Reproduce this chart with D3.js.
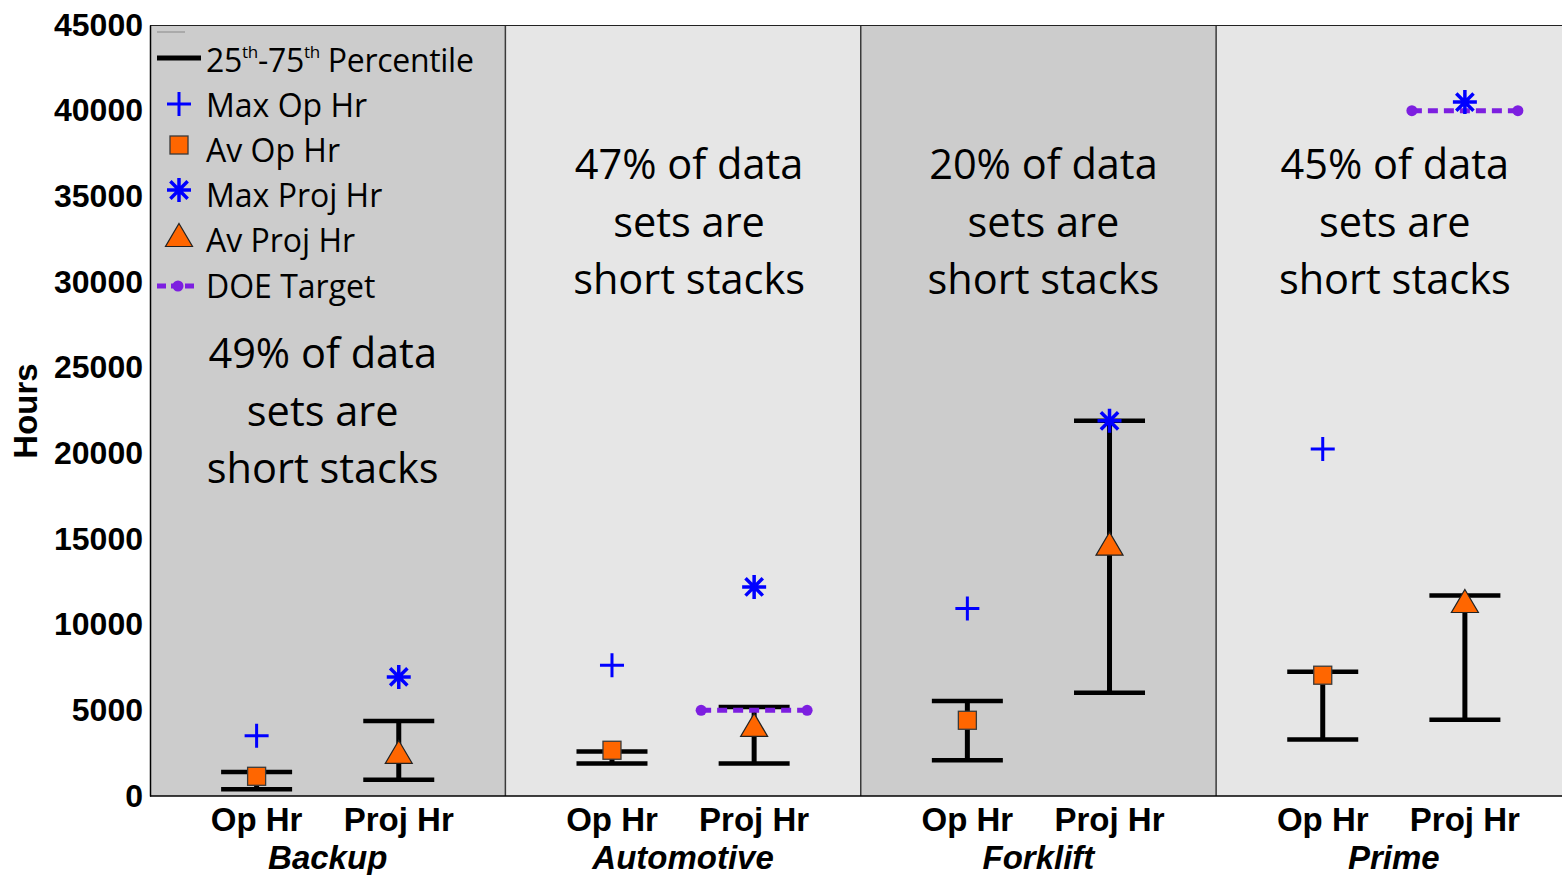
<!DOCTYPE html>
<html><head><meta charset="utf-8">
<script src="https://cdn.jsdelivr.net/npm/d3@7"></script>
<style>html,body{margin:0;padding:0;background:#fff;}svg{display:block;}</style>
</head><body>
<svg id="chart" width="1562" height="875"></svg>
<script>
// ---- data ----
const groups = ["Backup", "Automotive", "Forklift", "Prime"];
const subLabels = ["Op Hr", "Proj Hr"];
const shortStackPct = ["49%", "47%", "20%", "45%"];
const yTicks = [0, 5000, 10000, 15000, 20000, 25000, 30000, 35000, 40000, 45000];

const opP25   = [400, 1890, 2080, 3300];
const opP75   = [1400, 2590, 5550, 7250];
const opAv    = [1150, 2670, 4420, 7050];
const opMax   = [3520, 7630, 10950, 20250];

const projP25 = [950, 1890, 6030, 4450];
const projP75 = [4380, 5200, 21900, 11700];
const projAv  = [2570, 4150, 14730, 11380];
const projMax = [6950, 12200, 21900, 40500];

const doeTarget = [null, 5000, null, 40000];

// ---- layout ----
const W = 1562, H = 875;
const plot = {left: 150, top: 25, bottom: 796};
const panelFill = ["#cccccc", "#e6e6e6", "#cccccc", "#e6e6e6"];
const svg = d3.select("#chart");

const x = d3.scaleLinear().domain([0, 4]).range([plot.left, 1571.5]);
const y = d3.scaleLinear().domain([0, 45000]).range([plot.bottom, plot.top]);
const opPos = 0.3, projPos = 0.7;

// panels
svg.selectAll("rect.panel").data(groups).join("rect")
  .attr("class", "panel")
  .attr("x", (d, i) => x(i)).attr("y", plot.top)
  .attr("width", (d, i) => x(i + 1) - x(i)).attr("height", plot.bottom - plot.top)
  .attr("fill", (d, i) => panelFill[i]);

// dividers
svg.selectAll("line.div").data([1, 2, 3]).join("line")
  .attr("x1", d => x(d)).attr("x2", d => x(d))
  .attr("y1", plot.top).attr("y2", plot.bottom)
  .attr("stroke", "#3a3a3a").attr("stroke-width", 1.5);

// top border
svg.append("line").attr("x1", plot.left).attr("x2", W).attr("y1", plot.top + 0.5).attr("y2", plot.top + 0.5)
  .attr("stroke", "#222").attr("stroke-width", 1.2);

// y axis
const yAxis = d3.axisLeft(y).tickValues(yTicks).tickSize(0).tickPadding(7).tickFormat(d3.format("d"));
const gy = svg.append("g").attr("transform", `translate(${plot.left},0)`).call(yAxis);
gy.select(".domain").attr("stroke", "#000").attr("stroke-width", 1.5);
gy.selectAll("text").attr("font-family", "Liberation Sans, Arial, sans-serif")
  .attr("font-weight", "bold").attr("font-size", 32).attr("fill", "#000");

// bottom axis line
svg.append("line").attr("x1", plot.left).attr("x2", W).attr("y1", plot.bottom).attr("y2", plot.bottom)
  .attr("stroke", "#000").attr("stroke-width", 1.5);

// y title
svg.append("text").attr("transform", `translate(37,411) rotate(-90)`)
  .attr("text-anchor", "middle").attr("font-family", "Liberation Sans, Arial, sans-serif")
  .attr("font-weight", "bold").attr("font-size", 33).text("Hours");

// x labels
groups.forEach((g, i) => {
  [opPos, projPos].forEach((p, j) => {
    svg.append("text").attr("x", x(i + p)).attr("y", 831).attr("text-anchor", "middle")
      .attr("font-family", "Liberation Sans, Arial, sans-serif").attr("font-weight", "bold")
      .attr("font-size", 33).text(subLabels[j]);
  });
  svg.append("text").attr("x", x(i + 0.5)).attr("y", 869).attr("text-anchor", "middle")
    .attr("font-family", "Liberation Sans, Arial, sans-serif").attr("font-weight", "bold")
    .attr("font-style", "italic").attr("font-size", 33).text(g);
});

// annotations
const annoPos = [{dx: -5, y: 352}, {dx: 6, y: 163}, {dx: 5, y: 163}, {dx: 1, y: 163}];
groups.forEach((g, i) => {
  const lines = [shortStackPct[i] + " of data", "sets are", "short stacks"];
  const t = svg.append("text").attr("text-anchor", "middle")
    .attr("font-family", "Open Sans, Noto Sans, sans-serif").attr("font-size", 41.5).attr("fill", "#000");
  lines.forEach((l, k) => {
    t.append("tspan").attr("x", x(i + 0.5) + annoPos[i].dx).attr("y", annoPos[i].y + k * 57.5)
      .attr("dominant-baseline", "central").text(l);
  });
});

// ---- marks ----
const capW = 71;
function whisker(i, pos, lo, hi) {
  const cx = x(i + pos);
  const g = svg.append("g");
  g.append("line").attr("x1", cx).attr("x2", cx).attr("y1", y(lo)).attr("y2", y(hi))
    .attr("stroke", "#000").attr("stroke-width", 5);
  [lo, hi].forEach(v => g.append("line").attr("x1", cx - capW / 2).attr("x2", cx + capW / 2)
    .attr("y1", y(v)).attr("y2", y(v)).attr("stroke", "#000").attr("stroke-width", 4.5));
}
groups.forEach((g, i) => {
  whisker(i, opPos, opP25[i], opP75[i]);
  whisker(i, projPos, projP25[i], projP75[i]);
});

const purple = "#7d1fe0";
function doeLine(cx, cy, half) {
  const g = svg.append("g");
  g.append("line").attr("x1", cx - half).attr("x2", cx + half).attr("y1", cy).attr("y2", cy)
    .attr("stroke", purple).attr("stroke-width", 5).attr("stroke-dasharray", "10,6");
  return g;
}
groups.forEach((g, i) => {
  if (doeTarget[i] == null) return;
  const cx = x(i + projPos), cy = y(doeTarget[i]);
  const gg = doeLine(cx, cy, 53);
  [cx - 53, cx + 53].forEach(px => gg.append("circle").attr("cx", px).attr("cy", cy).attr("r", 5.5).attr("fill", purple));
});

const orange = "#ff6600";
function plus(px, py, s) {
  svg.append("path").attr("d", `M${px - s},${py}H${px + s}M${px},${py - s}V${py + s}`)
    .attr("stroke", "#0000ff").attr("stroke-width", 3).attr("fill", "none");
}
function star(px, py, s) {
  const d = s * 0.72;
  svg.append("path").attr("d", `M${px - s},${py}H${px + s}M${px},${py - s}V${py + s}M${px - d},${py - d}L${px + d},${py + d}M${px - d},${py + d}L${px + d},${py - d}`)
    .attr("stroke", "#0000ff").attr("stroke-width", 3.5).attr("fill", "none");
}
function square(px, py, s) {
  svg.append("rect").attr("x", px - s / 2).attr("y", py - s / 2).attr("width", s).attr("height", s)
    .attr("fill", orange).attr("stroke", "#3a3a3a").attr("stroke-width", 1.3);
}
function tri(px, py, w, h) {
  svg.append("path").attr("d", `M${px},${py - h / 2}L${px + w / 2},${py + h / 2}L${px - w / 2},${py + h / 2}Z`)
    .attr("fill", orange).attr("stroke", "#222").attr("stroke-width", 1.2);
}
groups.forEach((g, i) => {
  plus(x(i + opPos), y(opMax[i]), 12);
  square(x(i + opPos), y(opAv[i]), 18);
  star(x(i + projPos), y(projMax[i]), 12);
  tri(x(i + projPos), y(projAv[i]), 27, 23);
});

// ---- legend ----
const lg = svg.append("g").attr("font-family", "Open Sans, Noto Sans, sans-serif").attr("font-size", 32);
lg.append("line").attr("x1", 157).attr("x2", 185).attr("y1", 32).attr("y2", 32).attr("stroke", "#888").attr("stroke-width", 1);
const legY = [59, 104, 149, 194, 239, 285];
lg.append("line").attr("x1", 157).attr("x2", 201).attr("y1", legY[0] - 1).attr("y2", legY[0] - 1)
  .attr("stroke", "#000").attr("stroke-width", 5);
const t0 = lg.append("text").attr("x", 206).attr("y", legY[0]).attr("dominant-baseline", "central").attr("letter-spacing", -0.3);
t0.append("tspan").text("25");
t0.append("tspan").attr("font-size", 17).attr("dy", -8).text("th");
t0.append("tspan").attr("dy", 8).text("-75");
t0.append("tspan").attr("font-size", 17).attr("dy", -8).text("th");
t0.append("tspan").attr("dy", 8).text(" Percentile");
plus(179, legY[1], 12);
square(179, legY[2] - 4, 18);
star(179, legY[3] - 4, 12);
tri(179, legY[4] - 4, 27, 23);
{
  const g = lg.append("g");
  g.append("line").attr("x1", 157).attr("x2", 197).attr("y1", legY[5] + 1).attr("y2", legY[5] + 1)
    .attr("stroke", purple).attr("stroke-width", 5).attr("stroke-dasharray", "9,5");
  g.append("circle").attr("cx", 178).attr("cy", legY[5] + 1).attr("r", 5.5).attr("fill", purple);
}
["Max Op Hr", "Av Op Hr", "Max Proj Hr", "Av Proj Hr", "DOE Target"].forEach((s, k) => {
  lg.append("text").attr("x", 206).attr("y", legY[k + 1]).attr("dominant-baseline", "central").text(s);
});
</script>
</body></html>
